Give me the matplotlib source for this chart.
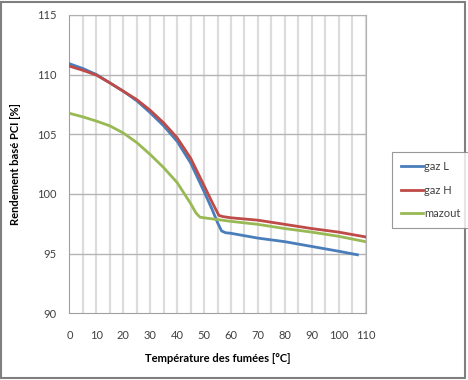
import matplotlib.pyplot as plt
from matplotlib.patches import Rectangle

plt.rcParams['font.family'] = ['Lato', 'DejaVu Sans']

# Data
gaz_l_x = [0, 5, 10, 15, 20, 25, 30, 35, 40, 45, 50, 53, 55, 56.5, 58, 60, 70, 80, 90, 100, 107]
gaz_l_y = [110.9, 110.5, 110.0, 109.3, 108.6, 107.8, 106.8, 105.7, 104.4, 102.6, 100.2,
           98.7, 97.6, 96.9, 96.75, 96.7, 96.3, 96.0, 95.6, 95.2, 94.9]

gaz_h_x = [0, 5, 10, 15, 20, 25, 30, 35, 40, 45, 50, 53, 55.5, 57, 60, 70, 80, 90, 100, 110]
gaz_h_y = [110.7, 110.35, 109.95, 109.3, 108.6, 107.9, 107.0, 105.95, 104.7, 103.0, 100.7,
           99.3, 98.2, 98.1, 98.0, 97.8, 97.45, 97.1, 96.8, 96.4]

mazout_x = [0, 5, 10, 15, 20, 25, 30, 35, 40, 45, 47, 48.5, 50, 55, 60, 70, 80, 90, 100, 110]
mazout_y = [106.75, 106.45, 106.1, 105.7, 105.1, 104.3, 103.3, 102.2, 100.95, 99.2, 98.4,
            98.05, 98.0, 97.85, 97.7, 97.45, 97.1, 96.8, 96.45, 96.0]

x_ticks = list(range(0, 111, 10))
y_ticks = [90, 95, 100, 105, 110, 115]

fig = plt.figure(figsize=(4.68, 3.8), dpi=100)
ax = fig.add_axes([0.1485, 0.1755, 0.6325, 0.7855])

# vertical grid every 5, horizontal every 5
for xv in range(5, 111, 5):
    ax.axvline(xv, color='#dcdcdc', lw=1.6, zorder=0)
for yv in y_ticks[1:]:
    ax.axhline(yv, color='#b4b4b4', lw=1.0, zorder=1)

ax.plot(gaz_l_x, gaz_l_y, color='#4a7ebb', lw=2.0, label='gaz L', zorder=3)
ax.plot(gaz_h_x, gaz_h_y, color='#be4b48', lw=2.0, label='gaz H', zorder=3)
ax.plot(mazout_x, mazout_y, color='#98b954', lw=2.0, label='mazout', zorder=3)

ax.set_xlim(0, 110)
ax.set_ylim(90, 115)
ax.set_xticks(x_ticks)
ax.set_yticks(y_ticks)
ax.tick_params(axis='both', length=0, labelsize=8, labelcolor='#404040', pad=9)
ax.tick_params(axis='x', pad=12)
for side in ['left', 'bottom']:
    ax.spines[side].set_color('#a0a0a0')
for side in ['top', 'right']:
    ax.spines[side].set_color('#b0b0b0')
    ax.spines[side].set_linestyle((0, (2, 1)))

ax.set_xlabel('Température des fumées [°C]', fontsize=8, fontweight='bold', labelpad=9)
ax.set_ylabel('Rendement basé PCI [%]', fontsize=8, fontweight='bold', labelpad=12)

leg = fig.legend(loc='center left', bbox_to_anchor=(0.838, 0.5), fontsize=8,
                 frameon=True, fancybox=False, handlelength=2.0, handletextpad=0.1,
                 labelspacing=1.1, borderpad=0.8, borderaxespad=0)
leg.get_frame().set_edgecolor('#7f7f7f')
leg.get_frame().set_linewidth(0.8)
for t in leg.get_texts():
    t.set_color('#404040')

# chart border
fig.patches.append(Rectangle((0.002, 0.006), 0.992, 0.99, transform=fig.transFigure,
                             fill=False, edgecolor='#7f7f7f', lw=1.5))

fig.savefig('out.png', dpi=100)
